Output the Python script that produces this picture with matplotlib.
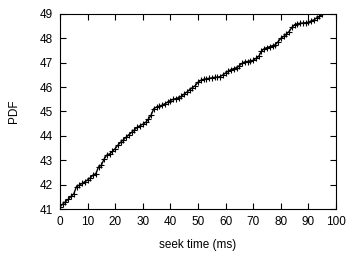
import matplotlib
matplotlib.use("Agg")
import matplotlib.pyplot as plt

# seek time (ms) and PDF values
seek_ms = list(range(0, 96))
pdf = [41.10, 41.20, 41.30, 41.40, 41.52, 41.62, 41.92, 41.98, 42.05, 42.12,
       42.19, 42.28, 42.40, 42.45, 42.73, 42.80, 43.05, 43.22, 43.26, 43.36,
       43.48, 43.62, 43.74, 43.84, 43.95, 44.05, 44.15, 44.25, 44.35, 44.42,
       44.48, 44.55, 44.68, 44.85, 45.12, 45.18, 45.22, 45.26, 45.32, 45.38,
       45.45, 45.50, 45.53, 45.57, 45.62, 45.72, 45.80, 45.90, 45.98, 46.06,
       46.20, 46.28, 46.32, 46.34, 46.36, 46.38, 46.40, 46.41, 46.43, 46.50,
       46.58, 46.66, 46.72, 46.76, 46.80, 46.88, 46.98, 47.04, 47.05, 47.08,
       47.10, 47.18, 47.26, 47.48, 47.58, 47.62, 47.66, 47.70, 47.74, 47.86,
       48.00, 48.08, 48.18, 48.28, 48.45, 48.56, 48.60, 48.62, 48.63, 48.64,
       48.66, 48.72, 48.76, 48.84, 48.90, 48.98]

xticks = list(range(0, 101, 10))
yticks = list(range(41, 50))

plt.rcParams['font.family'] = ['Liberation Sans', 'DejaVu Sans']

fig = plt.figure(figsize=(3.59, 2.59), dpi=100)
ax = fig.add_axes([0.167, 0.193, 0.769, 0.753])

ax.plot(seek_ms, pdf, color='black', linewidth=1.0, marker='+',
        markersize=4.5, markeredgewidth=0.8)

ax.set_xlim(0, 100)
ax.set_ylim(41, 49)
ax.set_xticks(xticks)
ax.set_yticks(yticks)
ax.tick_params(direction='in', length=4, width=0.8, labelsize=8.5,
               top=True, right=True, pad=5)
for s in ax.spines.values():
    s.set_linewidth(0.8)

ax.set_xlabel("seek time (ms)", fontsize=8.5, labelpad=8)
ax.set_ylabel("PDF", fontsize=8.5, labelpad=14)

fig.savefig("out.png", dpi=100)
